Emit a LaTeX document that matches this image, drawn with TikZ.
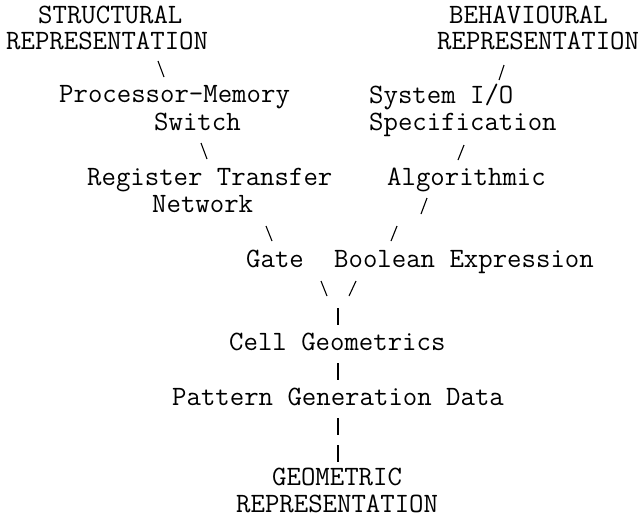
\documentclass[tikz,border=0pt]{standalone}
\usepackage{fontspec}
\usepackage{tikz}
\tikzstyle{label} = [anchor=base west,inner sep=0pt,font=\fontsize{28}{27}\selectfont\ttfamily]
\tikzstyle{link} = [draw,line width=1.1pt]

\begin{document}
\begin{tikzpicture}[x=1pt,y=-1pt]
	\useasboundingbox (0,0) rectangle (642,520);
	% draw the levels, one line of text each
	\foreach \pos/\name/\txt in {{(38,23)/strA/STRUCTURAL}, {(6,49)/strB/REPRESENTATION},
	                            {(449,23)/behA/BEHAVIOURAL}, {(437,49)/behB/REPRESENTATION},
	                            {(59,102)/pmsA/Processor-Memory}, {(154,130)/pmsB/Switch},
	                            {(369,103)/sysA/{System I/O}}, {(369,130)/sysB/Specification},
	                            {(87,185)/rtnA/Register Transfer}, {(152,212)/rtnB/Network},
	                            {(387,185)/alg/Algorithmic},
	                            {(246,267)/gate/Gate}, {(334,267)/bool/Boolean Expression},
	                            {(229,350)/cell/Cell Geometrics},
	                            {(172,405)/pgd/Pattern Generation Data},
	                            {(272,485)/geoA/GEOMETRIC}, {(236,512)/geoB/REPRESENTATION}}
		\node[label] (\name) at \pos {\txt};
	% the typed strokes between the levels
	\foreach \from/\to in {{(158,61)/(164,77)}, {(201,143)/(207,159)},
	                       {(266,226)/(272,241)}, {(321,281)/(327,296)},
	                       {(504,65)/(499,80)}, {(464,145)/(458,160)},
	                       {(427,198)/(421,214)}, {(397,226)/(391,241)},
	                       {(356,281)/(349,296)},
	                       {(338,308)/(338,325)}, {(338,363)/(338,380)},
	                       {(338,418)/(338,435)}, {(338,445)/(338,462)}}
		\path[link] \from -- \to;
\end{tikzpicture}
\end{document}
